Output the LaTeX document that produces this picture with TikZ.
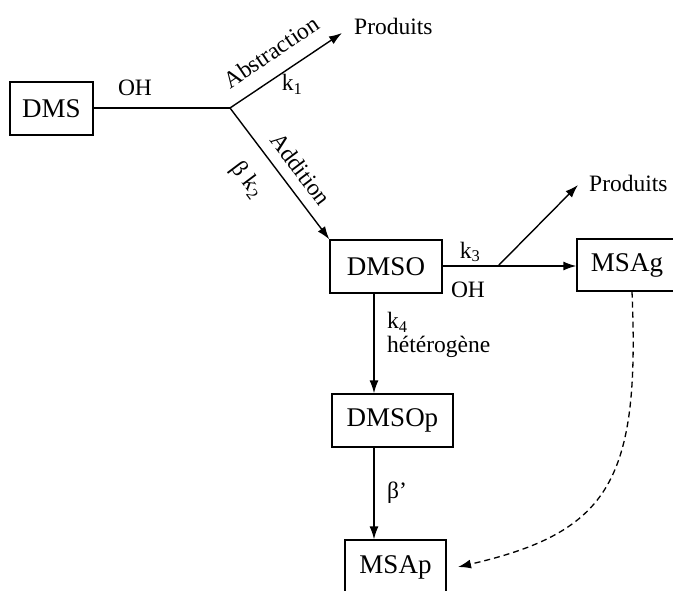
\documentclass[tikz,border=0pt]{standalone}
\usepackage{fontspec}
\setmainfont{Liberation Serif}
\usetikzlibrary{arrows.meta}
\tikzset{
  box/.style={draw, line width=1.3pt, rectangle, inner sep=0pt, minimum height=53pt, font=\fontsize{27}{29}\selectfont},
  lbl/.style={inner sep=1pt, font=\fontsize{23.5}{25}\selectfont},
  conn/.style={line width=1.4pt},
  arr/.style={conn, -{Latex[length=13pt,width=9pt]}},
  darr/.style={line width=1.3pt, dash pattern=on 6pt off 4pt, -{Latex[length=13pt,width=9pt]}}
}
\begin{document}
\begin{tikzpicture}[x=1pt,y=-1pt]
\clip (0,0) rectangle (673,590);
\useasboundingbox (0,0) rectangle (673,590);

\node[box, minimum width=83pt] (dms) at (51.5,108.5) {DMS};
\node[box, minimum width=112pt] (dmso) at (386,266.5) {DMSO};
\node[box, minimum width=100pt, minimum height=52pt] (msag) at (627,265) {MSAg};
\node[box, minimum width=121pt] (dmsop) at (392.5,420.5) {DMSOp};
\node[box, minimum width=101pt, minimum height=54pt] (msap) at (395.5,567) {MSAp};

\coordinate (j1) at (230,108);
\coordinate (j2) at (498,266);
\coordinate (p1tip) at (342,33);
\coordinate (p2tip) at (578,185);

\node[lbl, anchor=west] (prod1) at (353,26) {Produits};
\node[lbl, anchor=west] (prod2) at (588,183) {Produits};

\draw[conn] (dms.east |- j1) -- (j1);
\draw[arr] (j1) -- (p1tip);
\draw[arr] (j1) -- (dmso.north west);
\draw[arr] (dmso.east |- j2) -- (msag.west |- j2);
\draw[arr] (j2) -- (p2tip);
\draw[arr] (dmso.south -| 374,0) -- (dmsop.north -| 374,0);
\draw[arr] (dmsop.south -| 374,0) -- (msap.north -| 374,0);

\draw[darr] (msag.south -| 632,0) .. controls (640,480) and (610,532) .. (msap.east -| 458,0);

\node[lbl, rotate=34] (abs) at (271,52) {Abstraction};
\node[lbl, rotate=-53] (add) at (301,169) {Addition};
\node[lbl, rotate=-53] (bk2) at (247,180) {β k\textsubscript{2}};
\node[lbl] (oh1) at (135,88) {OH};
\node[lbl] (k1) at (292,84) {k\textsubscript{1}};
\node[lbl] (k3) at (470,252) {k\textsubscript{3}};
\node[lbl] (oh2) at (468,290) {OH};
\node[lbl, anchor=west] (k4) at (386,322) {k\textsubscript{4}};
\node[lbl, anchor=west] (het) at (386,347) {hétérogène};
\node[lbl, anchor=west] (bp) at (386,493) {β’};
\end{tikzpicture}
\end{document}
